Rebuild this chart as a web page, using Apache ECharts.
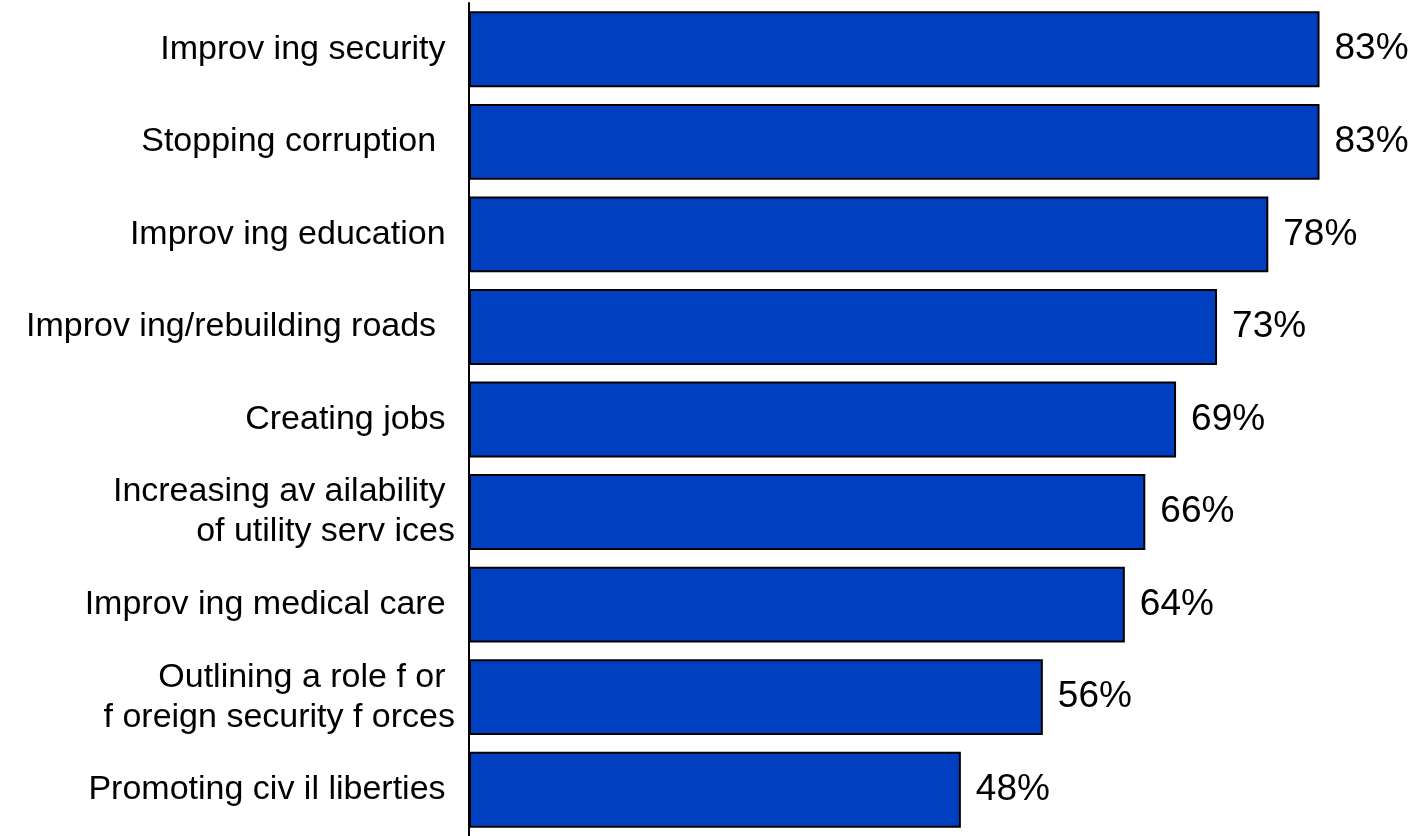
<!DOCTYPE html>
<html>
<head>
<meta charset="utf-8">
<script src="https://cdn.jsdelivr.net/npm/echarts@6/dist/echarts.min.js"></script>
<style>
  html, body { margin: 0; padding: 0; background: #fff; }
  #main { width: 1424px; height: 836px; }
</style>
</head>
<body>
<div id="main"></div>
<script>
var categories = [
  'Improv ing security ',
  'Stopping corruption  ',
  'Improv ing education ',
  'Improv ing/rebuilding roads  ',
  'Creating jobs ',
  'Increasing av ailability \nof utility serv ices',
  'Improv ing medical care ',
  'Outlining a role f or \nf oreign security f orces',
  'Promoting civ il liberties '
];
var values = [83, 83, 78, 73, 69, 66, 64, 56, 48];

var chart = echarts.init(document.getElementById('main'));

var option = {
  animation: false,
  grid: { left: 469, top: 3, bottom: 0, right: 2 },
  xAxis: {
    type: 'value',
    min: 0,
    max: 93,
    show: false
  },
  yAxis: {
    type: 'category',
    inverse: true,
    data: categories,
    axisLine: { show: true, lineStyle: { color: '#000', width: 2 } },
    axisTick: { show: false },
    axisLabel: {
      color: '#000',
      fontFamily: 'Liberation Sans, Arial, sans-serif',
      fontSize: 34,
      lineHeight: 40,
      margin: 14,
      align: 'right'
    }
  },
  series: [{
    type: 'bar',
    data: values,
    barCategoryGap: '18%',
    itemStyle: {
      color: '#0040C0',
      borderColor: '#000',
      borderWidth: 2
    },
    label: {
      show: true,
      position: 'right',
      distance: 15,
      color: '#000',
      fontFamily: 'Liberation Sans, Arial, sans-serif',
      fontSize: 37,
      formatter: '{c}%'
    }
  }]
};

chart.setOption(option);
</script>
</body>
</html>
